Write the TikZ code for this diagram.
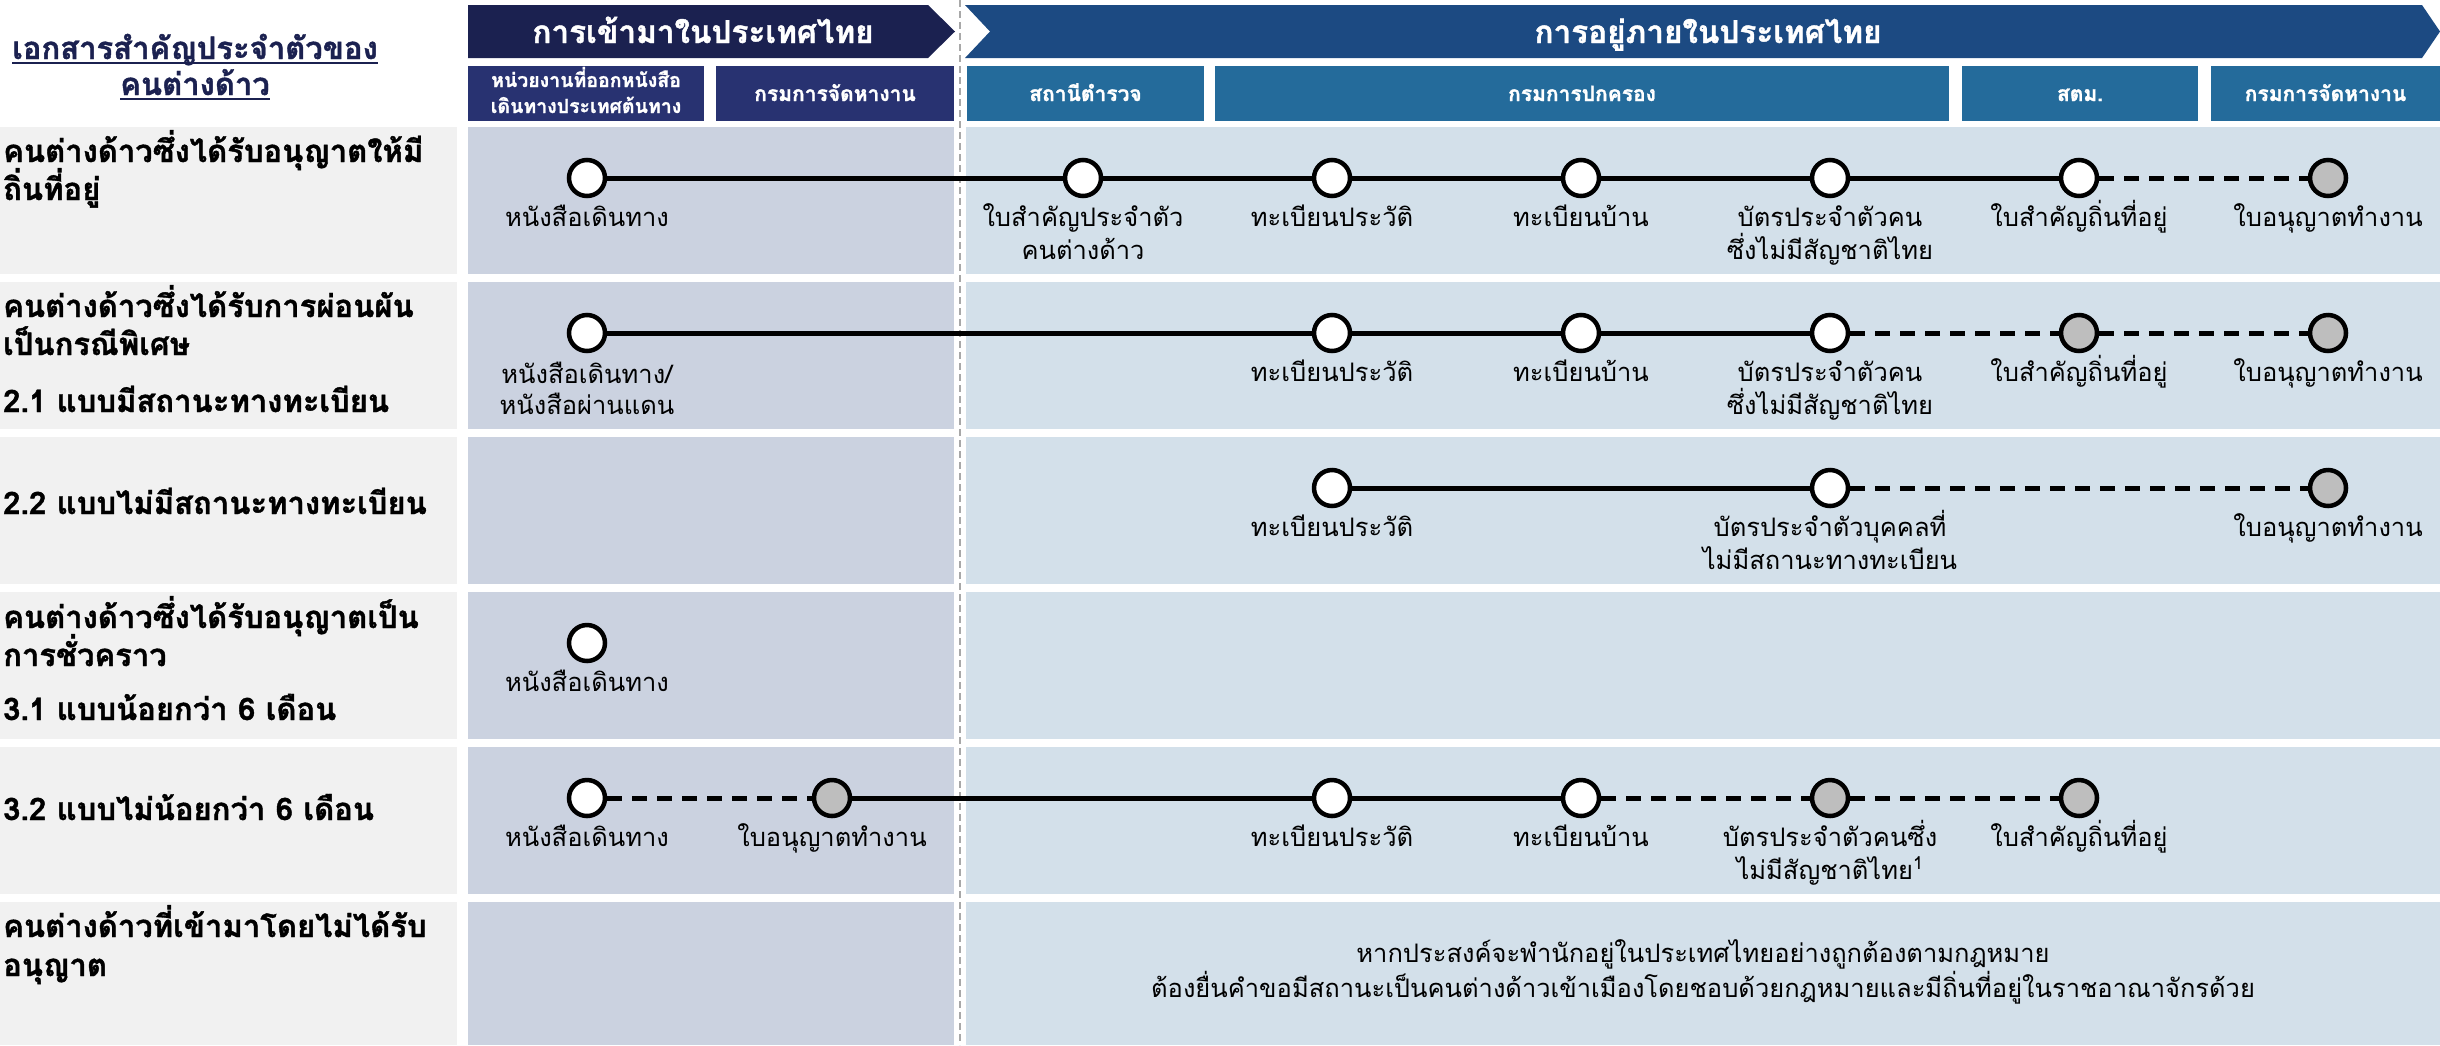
\documentclass[tikz,border=0pt]{standalone}
\usepackage{fontspec}
\newfontfamily\thai[Script=Thai,BoldFeatures={FakeBold=1.2}]{Loma}
\definecolor{navyA}{HTML}{1B2150}
\definecolor{navyB}{HTML}{283271}
\definecolor{blueA}{HTML}{1C4A82}
\definecolor{blueB}{HTML}{246B9B}
\definecolor{lblbg}{HTML}{F1F1F1}
\definecolor{panelA}{HTML}{CBD2E0}
\definecolor{panelB}{HTML}{D3E0EA}
\definecolor{docgray}{HTML}{BEBEBE}
\definecolor{sepgray}{HTML}{A8A8A8}
\begin{document}
\begin{tikzpicture}[x=1pt,y=-1pt,
  doc/.style={circle,draw=black,line width=4.5pt,fill=white,minimum size=36pt,inner sep=0pt},
  docg/.style={doc,fill=docgray},
  solidc/.style={line width=5pt,black},
  dashc/.style={line width=5pt,black,dash pattern=on 15pt off 10pt},
  lbl/.style={font=\thai\fontsize{25.5}{33}\selectfont,anchor=base,inner sep=0pt,text=black},
  rowlbl/.style={font=\thai\bfseries\fontsize{31}{39}\selectfont,anchor=base west,inner sep=0pt,text=black},
  titl/.style={font=\thai\bfseries\fontsize{31}{36}\selectfont,anchor=base,inner sep=0pt,text=navyA},
  arrtxt/.style={font=\thai\bfseries\fontsize{31.5}{30}\selectfont,anchor=base,inner sep=0pt,text=white},
  hdrtxt/.style={font=\thai\bfseries\fontsize{21}{26}\selectfont,anchor=base,inner sep=0pt,text=white},
  hdrsm/.style={hdrtxt,font=\thai\bfseries\fontsize{19.5}{26}\selectfont},
  hbox/.style={rectangle,inner sep=0pt,minimum height=55pt}
]
\useasboundingbox (0,0) rectangle (2440,1045);
\fill[white] (0,0) rectangle (2440,1045);

% ---- top arrows
\fill[navyA] (468,5) -- (928,5) -- (955,31.5) -- (928,58) -- (468,58) -- cycle;
\node[arrtxt] (a1) at (703,43) {การเข้ามาในประเทศไทย};
\fill[blueA] (965,5) -- (2422,5) -- (2440,31.5) -- (2422,58) -- (965,58) -- (990,31.5) -- cycle;
\node[arrtxt] (a2) at (1708,43) {การอยู่ภายในประเทศไทย};

% ---- title
\node[titl] (t1) at (195,59) {เอกสารสำคัญประจำตัวของ};
\node[titl] (t2) at (195,95) {คนต่างด้าว};
\draw[navyA,line width=2.5pt] ([yshift=-4pt]t1.base west) -- ([yshift=-4pt]t1.base east);
\draw[navyA,line width=2.5pt] ([yshift=-4pt]t2.base west) -- ([yshift=-4pt]t2.base east);

% ---- header boxes
\node[hbox,fill=navyB,minimum width=236pt] (h1) at (586,93.5) {};
\node[hdrsm] (h1t) at (586,87) {หน่วยงานที่ออกหนังสือ};
\node[hdrsm] (h1u) at (586,113) {เดินทางประเทศต้นทาง};
\node[hbox,fill=navyB,minimum width=238pt] (h2) at (835,93.5) {};
\node[hdrtxt] (h2t) at (835,101) {กรมการจัดหางาน};
\node[hbox,fill=blueB,minimum width=237pt] (h3) at (1085.5,93.5) {};
\node[hdrtxt] (h3t) at (1085.5,101) {สถานีตำรวจ};
\node[hbox,fill=blueB,minimum width=734pt] (h4) at (1582,93.5) {};
\node[hdrtxt] (h4t) at (1582,101) {กรมการปกครอง};
\node[hbox,fill=blueB,minimum width=236pt] (h5) at (2080,93.5) {};
\node[hdrtxt] (h5t) at (2080,101) {สตม.};
\node[hbox,fill=blueB,minimum width=229pt] (h6) at (2325.5,93.5) {};
\node[hdrtxt] (h6t) at (2325.5,101) {กรมการจัดหางาน};

% ---- row backgrounds
\foreach \t in {127,282,437,592,747} {
  \fill[lblbg] (0,\t) rectangle (457,\t+147);
  \fill[panelA] (468,\t) rectangle (954,\t+147);
  \fill[panelB] (966,\t) rectangle (2440,\t+147);
}
\fill[lblbg] (0,902) rectangle (457,1045);
\fill[panelA] (468,902) rectangle (954,1045);
\fill[panelB] (966,902) rectangle (2440,1045);

% ---- separator
\draw[sepgray,line width=1.5pt,dash pattern=on 7pt off 4pt] (960,0) -- (960,1045);

% ---- row labels
\node[rowlbl] (L1a) at (3,162) {คนต่างด้าวซึ่งได้รับอนุญาตให้มี};
\node[rowlbl] (L1b) at (3,200) {ถิ่นที่อยู่};
\node[rowlbl] (L2a) at (3,317) {คนต่างด้าวซึ่งได้รับการผ่อนผัน};
\node[rowlbl] (L2b) at (3,355) {เป็นกรณีพิเศษ};
\node[rowlbl] (L2c) at (3,412) {2.1 แบบมีสถานะทางทะเบียน};
\node[rowlbl] (L3a) at (3,514) {2.2 แบบไม่มีสถานะทางทะเบียน};
\node[rowlbl] (L4a) at (3,628) {คนต่างด้าวซึ่งได้รับอนุญาตเป็น};
\node[rowlbl] (L4b) at (3,666) {การชั่วคราว};
\node[rowlbl] (L4c) at (3,720) {3.1 แบบน้อยกว่า 6 เดือน};
\node[rowlbl] (L5a) at (3,820) {3.2 แบบไม่น้อยกว่า 6 เดือน};
\node[rowlbl] (L6a) at (3,937) {คนต่างด้าวที่เข้ามาโดยไม่ได้รับ};
\node[rowlbl] (L6b) at (3,976) {อนุญาต};

% ---- row 1
\node[doc] (r1a) at (587,178) {};
\node[doc] (r1b) at (1083,178) {};
\node[doc] (r1c) at (1332,178) {};
\node[doc] (r1d) at (1581,178) {};
\node[doc] (r1e) at (1830,178) {};
\node[doc] (r1f) at (2079,178) {};
\node[docg] (r1g) at (2328,178) {};
\draw[solidc] (r1a) -- (r1b);
\draw[solidc] (r1b) -- (r1c);
\draw[solidc] (r1c) -- (r1d);
\draw[solidc] (r1d) -- (r1e);
\draw[solidc] (r1e) -- (r1f);
\draw[dashc] (r1f) -- (r1g);
\node[lbl] (r1aL) at (587,226) {หนังสือเดินทาง};
\node[lbl] (r1bL) at (1083,226) {ใบสำคัญประจำตัว};
\node[lbl] (r1bM) at (1083,259) {คนต่างด้าว};
\node[lbl] (r1cL) at (1332,226) {ทะเบียนประวัติ};
\node[lbl] (r1dL) at (1581,226) {ทะเบียนบ้าน};
\node[lbl] (r1eL) at (1830,226) {บัตรประจำตัวคน};
\node[lbl] (r1eM) at (1830,259) {ซึ่งไม่มีสัญชาติไทย};
\node[lbl] (r1fL) at (2079,226) {ใบสำคัญถิ่นที่อยู่};
\node[lbl] (r1gL) at (2328,226) {ใบอนุญาตทำงาน};

% ---- row 2
\node[doc] (r2a) at (587,333) {};
\node[doc] (r2c) at (1332,333) {};
\node[doc] (r2d) at (1581,333) {};
\node[doc] (r2e) at (1830,333) {};
\node[docg] (r2f) at (2079,333) {};
\node[docg] (r2g) at (2328,333) {};
\draw[solidc] (r2a) -- (r2c);
\draw[solidc] (r2c) -- (r2d);
\draw[solidc] (r2d) -- (r2e);
\draw[dashc] (r2e) -- (r2f);
\draw[dashc] (r2f) -- (r2g);
\node[lbl] (r2aL) at (587,383) {หนังสือเดินทาง/};
\node[lbl] (r2aM) at (587,414) {หนังสือผ่านแดน};
\node[lbl] (r2cL) at (1332,381) {ทะเบียนประวัติ};
\node[lbl] (r2dL) at (1581,381) {ทะเบียนบ้าน};
\node[lbl] (r2eL) at (1830,381) {บัตรประจำตัวคน};
\node[lbl] (r2eM) at (1830,414) {ซึ่งไม่มีสัญชาติไทย};
\node[lbl] (r2fL) at (2079,381) {ใบสำคัญถิ่นที่อยู่};
\node[lbl] (r2gL) at (2328,381) {ใบอนุญาตทำงาน};

% ---- row 3
\node[doc] (r3c) at (1332,488) {};
\node[doc] (r3e) at (1830,488) {};
\node[docg] (r3g) at (2328,488) {};
\draw[solidc] (r3c) -- (r3e);
\draw[dashc] (r3e) -- (r3g);
\node[lbl] (r3cL) at (1332,536) {ทะเบียนประวัติ};
\node[lbl] (r3eL) at (1830,536) {บัตรประจำตัวบุคคลที่};
\node[lbl] (r3eM) at (1830,569) {ไม่มีสถานะทางทะเบียน};
\node[lbl] (r3gL) at (2328,536) {ใบอนุญาตทำงาน};

% ---- row 4
\node[doc] (r4a) at (587,643) {};
\node[lbl] (r4aL) at (587,691) {หนังสือเดินทาง};

% ---- row 5
\node[doc] (r5a) at (587,798) {};
\node[docg] (r5b) at (832,798) {};
\node[doc] (r5c) at (1332,798) {};
\node[doc] (r5d) at (1581,798) {};
\node[docg] (r5e) at (1830,798) {};
\node[docg] (r5f) at (2079,798) {};
\draw[dashc] (r5a) -- (r5b);
\draw[solidc] (r5b) -- (r5c);
\draw[solidc] (r5c) -- (r5d);
\draw[dashc] (r5d) -- (r5e);
\draw[dashc] (r5e) -- (r5f);
\node[lbl] (r5aL) at (587,846) {หนังสือเดินทาง};
\node[lbl] (r5bL) at (832,846) {ใบอนุญาตทำงาน};
\node[lbl] (r5cL) at (1332,846) {ทะเบียนประวัติ};
\node[lbl] (r5dL) at (1581,846) {ทะเบียนบ้าน};
\node[lbl] (r5eL) at (1830,846) {บัตรประจำตัวคนซึ่ง};
\node[lbl] (r5eM) at (1830,879) {ไม่มีสัญชาติไทย\textsuperscript{1}};
\node[lbl] (r5fL) at (2079,846) {ใบสำคัญถิ่นที่อยู่};

% ---- row 6
\node[lbl] (r6a) at (1703,962) {หากประสงค์จะพำนักอยู่ในประเทศไทยอย่างถูกต้องตามกฎหมาย};
\node[lbl] (r6b) at (1703,997) {ต้องยื่นคำขอมีสถานะเป็นคนต่างด้าวเข้าเมืองโดยชอบด้วยกฎหมายและมีถิ่นที่อยู่ในราชอาณาจักรด้วย};
\end{tikzpicture}
\end{document}
